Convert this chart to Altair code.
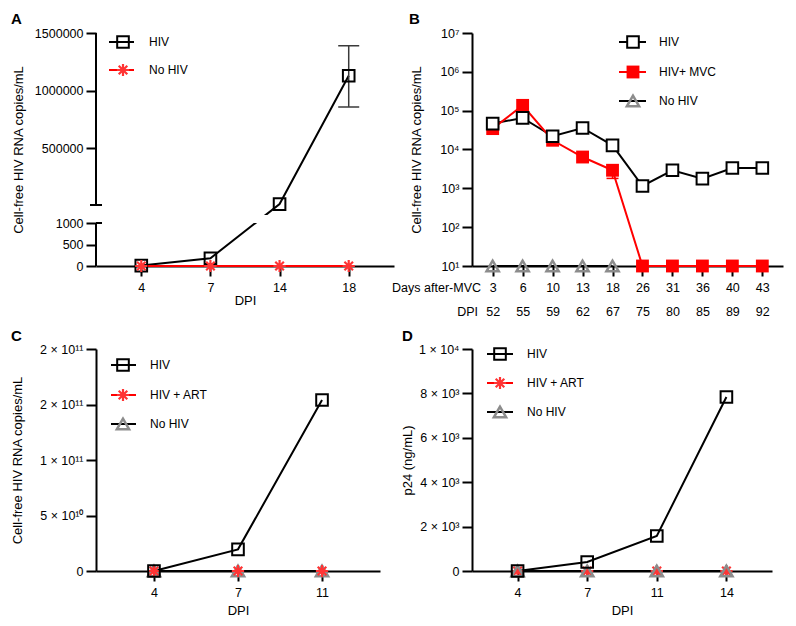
import json
import altair as alt
import pandas as pd

FONT = "Liberation Sans"
RED = "#ff0000"
STAR_RED = "#ff3434"
GREY = "#8c8c8c"
ASTERISK = "M0,-1L0,1M-1,0L1,0M-0.7,-0.7L0.7,0.7M-0.7,0.7L0.7,-0.7"

# ---------------- data ----------------
# Panel A
a_dpi = ["4", "7", "14", "18"]
a_hiv = [10, 180, 18000, 1130000]
a_hiv_err_dpi = ["18"]
a_hiv_err_lo = [860000]
a_hiv_err_hi = [1390000]
a_nohiv = [0, 0, 0, 0]
a_yticks = [0, 500, 1000, 500000, 1000000, 1500000]
a_break = [1000, 10000]          # axis break: lower segment top, upper segment bottom
a_ymax = 1500000

# Panel B
b_days = ["3", "6", "10", "13", "18", "26", "31", "36", "40", "43"]
b_dpi = ["52", "55", "59", "62", "67", "75", "80", "85", "89", "92"]
b_hiv = [46500, 65000, 21900, 35800, 12800, 1150, 2920, 1780, 3340, 3340]
b_mvc = [34500, 137000, 17300, 6400, 2920, 10, 10, 10, 10, 10]
b_mvc_err_day = ["18"]
b_mvc_err_lo = [1800]
b_mvc_err_hi = [2920]
b_nohiv_days = ["3", "6", "10", "13", "18"]
b_nohiv = [10, 10, 10, 10, 10]
b_yticks = [10, 100, 1000, 10000, 100000, 1000000, 10000000]

# Panel C
c_dpi = ["4", "7", "11"]
c_hiv = [0, 1.95e10, 1.54e11]
c_art = [0, 0, 0]
c_nohiv = [0, 0, 0]
c_yticks = [0, 5e10, 1e11, 1.5e11, 2e11]
c_ylabels = ["0", "5 × 10¹⁰", "1 × 10¹¹", "2 × 10¹¹", "2 × 10¹¹"]

# Panel D
d_dpi = ["4", "7", "11", "14"]
d_hiv = [0, 405, 1575, 7840]
d_art = [0, 0, 0, 0]
d_nohiv = [0, 0, 0, 0]
d_yticks = [0, 2000, 4000, 6000, 8000, 10000]
d_ylabels = ["0", "2 × 10³", "4 × 10³", "6 × 10³", "8 × 10³", "1 × 10⁴"]

# ---------------- styles ----------------
AX = dict(domainColor="black", domainWidth=2, tickColor="black", tickWidth=2, tickSize=10,
          labelFont=FONT, labelFontSize=12.5, labelColor="black",
          titleFont=FONT, titleFontSize=13, titleFontWeight="normal", titleColor="black",
          grid=False)


def x_axis(title, title_y, **kw):
    if title is None:
        return alt.Axis(title=None, labelAngle=0, labelPadding=5.5, **AX, **kw)
    return alt.Axis(title=title, labelAngle=0, labelPadding=5.5, titleY=title_y,
                    titleBaseline="top", **AX, **kw)


def y_axis(title, title_x, **kw):
    return alt.Axis(title=title, labelPadding=3, titleX=title_x, **AX, **kw)


def label_expr(values, labels):
    return "%s[indexof(%s, datum.value)]" % (json.dumps(labels, ensure_ascii=False),
                                             json.dumps(values))


SQ_OPEN = dict(shape="square", filled=False, color="black", strokeWidth=2, size=135, opacity=1)
SQ_WHITE = dict(shape="square", filled=True, fill="white", stroke="black", strokeWidth=2,
                size=135, opacity=1)
SQ_RED = dict(shape="square", filled=True, color=RED, size=165, opacity=1)
STAR = dict(shape=ASTERISK, filled=False, color=STAR_RED, strokeWidth=2.2, size=150, opacity=1)
TRI = dict(shape="triangle-up", filled=False, color=GREY, strokeWidth=2.5, size=150, opacity=1)


def df_series(xs, ys, xname="dpi"):
    return pd.DataFrame({xname: xs, "value": ys, "i": list(range(len(xs)))})


def line(df, color, x, y):
    return alt.Chart(df).mark_line(color=color, strokeWidth=2).encode(x=x, y=y, order="i:Q")


def points(df, props, x, y):
    return alt.Chart(df).mark_point(**props).encode(x=x, y=y)


def legend(items, x0, x1, xm, xt, ys):
    layers = []
    for (label, lcolor, props), yy in zip(items, ys):
        base = alt.Chart(pd.DataFrame({"t": [label]}))
        layers.append(base.mark_rule(color=lcolor, strokeWidth=2).encode(
            x=alt.value(x0), x2=alt.value(x1), y=alt.value(yy)))
        layers.append(base.mark_point(**props).encode(x=alt.value(xm), y=alt.value(yy)))
        layers.append(base.mark_text(align="left", baseline="middle", font=FONT, fontSize=12,
                                     color="black").encode(
            text="t:N", x=alt.value(xt), y=alt.value(yy)))
    return layers


def letter(txt, x, y):
    return alt.Chart(pd.DataFrame({"t": [txt]})).mark_text(
        align="left", baseline="top", font=FONT, fontSize=15, fontWeight="bold",
        color="black").encode(text="t:N", x=alt.value(x), y=alt.value(y))


# ---------------- Panel A ----------------
WA, HA = 298, 233
xA = alt.X("dpi:O", sort=a_dpi, scale=alt.Scale(type="point", padding=0.655),
           axis=x_axis("DPI", 28))
yA_scale = alt.Scale(domain=[0, a_break[0], a_break[1], a_ymax], range=[HA, 190, 172, 0],
                     zero=False, nice=False)
yA_axis = y_axis("Cell-free HIV RNA copies/mL", -71, values=a_yticks, format="d", domain=False)
yA = alt.Y("value:Q", scale=yA_scale, axis=yA_axis)

dfA_hiv = df_series(a_dpi, a_hiv)
dfA_no = df_series(a_dpi, a_nohiv)

mask = alt.Chart(pd.DataFrame({"value": [a_break[0]], "value2": [5000]})).mark_rect(
    color="white").encode(x=alt.value(0), x2=alt.value(WA), y=yA, y2="value2:Q")
segs = alt.Chart(pd.DataFrame({"value": [0, a_break[1]], "value2": [a_break[0], a_ymax]})).mark_rule(
    color="black", strokeWidth=2).encode(x=alt.value(0), y=yA, y2="value2:Q")
cap_hi = alt.Chart(pd.DataFrame({"value": [a_break[1]]})).mark_rule(
    color="black", strokeWidth=2).encode(x=alt.value(-6), x2=alt.value(6), y=yA)
cap_lo = alt.Chart(pd.DataFrame({"value": [a_break[0]]})).mark_rule(
    color="black", strokeWidth=2).encode(x=alt.value(0), x2=alt.value(6), y=yA)
errA = pd.DataFrame({"dpi": a_hiv_err_dpi, "value": a_hiv_err_lo, "value2": a_hiv_err_hi})
errA_rule = alt.Chart(errA).mark_rule(color="#3a3a3a", strokeWidth=1.5).encode(
    x=xA, y=yA, y2="value2:Q")
errA_caps = alt.Chart(pd.DataFrame({"dpi": a_hiv_err_dpi * 2,
                                    "value": a_hiv_err_lo + a_hiv_err_hi})).mark_tick(
    orient="horizontal", size=21, thickness=1.5, color="#3a3a3a", opacity=1).encode(x=xA, y=yA)

panelA = alt.layer(
    line(dfA_hiv, "black", xA, yA),
    line(dfA_no, RED, xA, yA),
    mask, segs, cap_hi, cap_lo, errA_rule, errA_caps,
    points(dfA_hiv, SQ_OPEN, xA, yA),
    points(dfA_no, STAR, xA, yA),
    *legend([("HIV", "black", SQ_OPEN), ("No HIV", RED, STAR)], 13, 38, 27, 53, [9, 37]),
    letter("A", -85, -21),
).properties(width=WA, height=HA)

# ---------------- Panel B ----------------
WB, HB = 311, 233
xB_expr = "[datum.label, %s[indexof(%s, datum.label)]]" % (json.dumps(b_dpi), json.dumps(b_days))
xB = alt.X("day:O", sort=b_days, scale=alt.Scale(type="point", padding=0.69),
           axis=x_axis(None, 0, labelExpr=xB_expr, labelLineHeight=24, labelOverlap=False))
yB = alt.Y("value:Q", scale=alt.Scale(type="log", domain=[10, 10000000], nice=False),
           axis=y_axis("Cell-free HIV RNA copies/mL", -48.5, values=b_yticks,
                       labelExpr="'10' + ['⁰','¹','²','³','⁴','⁵','⁶','⁷'][round(log(datum.value)/LN10)]"))

dfB_hiv = df_series(b_days, b_hiv, "day")
dfB_mvc = df_series(b_days, b_mvc, "day")
dfB_no = df_series(b_nohiv_days, b_nohiv, "day")
errB = pd.DataFrame({"day": b_mvc_err_day, "value": b_mvc_err_lo, "value2": b_mvc_err_hi})
errB_rule = alt.Chart(errB).mark_rule(color=RED, strokeWidth=1.5).encode(x=xB, y=yB, y2="value2:Q")
errB_cap = alt.Chart(errB).mark_tick(orient="horizontal", size=12, thickness=1.5, color=RED,
                                     opacity=1).encode(x=xB, y=yB)
rowlab = alt.Chart(pd.DataFrame({"t": ["Days after-MVC", "DPI"], "yy": [HB + 15.5, HB + 39.5],
                                 "xx": [9, 6]})).mark_text(
    align="right", baseline="top", font=FONT, fontSize=12.5, color="black").encode(
    text="t:N", x=alt.X("xx:Q", scale=None), y=alt.Y("yy:Q", scale=None))

panelB = alt.layer(
    line(dfB_hiv, "black", xB, yB),
    line(dfB_mvc, RED, xB, yB),
    line(dfB_no, "black", xB, yB),
    errB_rule, errB_cap,
    points(dfB_mvc, SQ_RED, xB, yB),
    points(dfB_hiv, SQ_WHITE, xB, yB),
    points(dfB_no, TRI, xB, yB),
    rowlab,
    *legend([("HIV", "black", SQ_WHITE), ("HIV+ MVC", RED, SQ_RED), ("No HIV", "black", TRI)],
            147, 174, 161, 187, [9, 39, 68]),
    letter("B", -63, -21),
).properties(width=WB, height=HB)

# ---------------- Panel C ----------------
WC, HC = 284, 222
xC = alt.X("dpi:O", sort=c_dpi, scale=alt.Scale(type="point", padding=0.69),
           axis=x_axis("DPI", 33))
yC = alt.Y("value:Q", scale=alt.Scale(domain=[0, 2e11], nice=False),
           axis=y_axis("Cell-free HIV RNA copies/mL", -72, values=c_yticks,
                       labelExpr=label_expr(c_yticks, c_ylabels)))
dfC_hiv = df_series(c_dpi, c_hiv)
dfC_art = df_series(c_dpi, c_art)
dfC_no = df_series(c_dpi, c_nohiv)
panelC = alt.layer(
    line(dfC_hiv, "black", xC, yC),
    line(dfC_art, RED, xC, yC),
    line(dfC_no, "black", xC, yC),
    points(dfC_no, TRI, xC, yC),
    points(dfC_art, STAR, xC, yC),
    points(dfC_hiv, SQ_OPEN, xC, yC),
    *legend([("HIV", "black", SQ_OPEN), ("HIV + ART", RED, STAR), ("No HIV", "black", TRI)],
            15, 40, 27, 54, [16, 46, 75]),
    letter("C", -85, -20),
).properties(width=WC, height=HC)

# ---------------- Panel D ----------------
WD, HD = 300, 222
xD = alt.X("dpi:O", sort=d_dpi, scale=alt.Scale(type="point", padding=0.655),
           axis=x_axis("DPI", 33))
yD = alt.Y("value:Q", scale=alt.Scale(domain=[0, 10000], nice=False),
           axis=y_axis("p24 (ng/mL)", -58, values=d_yticks,
                       labelExpr=label_expr(d_yticks, d_ylabels)))
dfD_hiv = df_series(d_dpi, d_hiv)
dfD_art = df_series(d_dpi, d_art)
dfD_no = df_series(d_dpi, d_nohiv)
panelD = alt.layer(
    line(dfD_hiv, "black", xD, yD),
    line(dfD_art, RED, xD, yD),
    line(dfD_no, "black", xD, yD),
    points(dfD_art, STAR, xD, yD),
    points(dfD_no, TRI, xD, yD),
    points(dfD_hiv, SQ_OPEN, xD, yD),
    *legend([("HIV", "black", SQ_OPEN), ("HIV + ART", RED, STAR), ("No HIV", "black", TRI)],
            15, 41, 28, 55, [5, 34, 63]),
    letter("D", -70, -20),
).properties(width=WD, height=HD)

chart = alt.concat(panelA, panelB, panelC, panelD, columns=2,
                   spacing={"row": 83, "column": 78}, bounds="flush").properties(
    padding={"left": 2, "top": 4, "right": 4, "bottom": 4}
).configure_view(strokeWidth=0)

chart.save("out.html", embed_options={"renderer": "svg", "actions": False})
